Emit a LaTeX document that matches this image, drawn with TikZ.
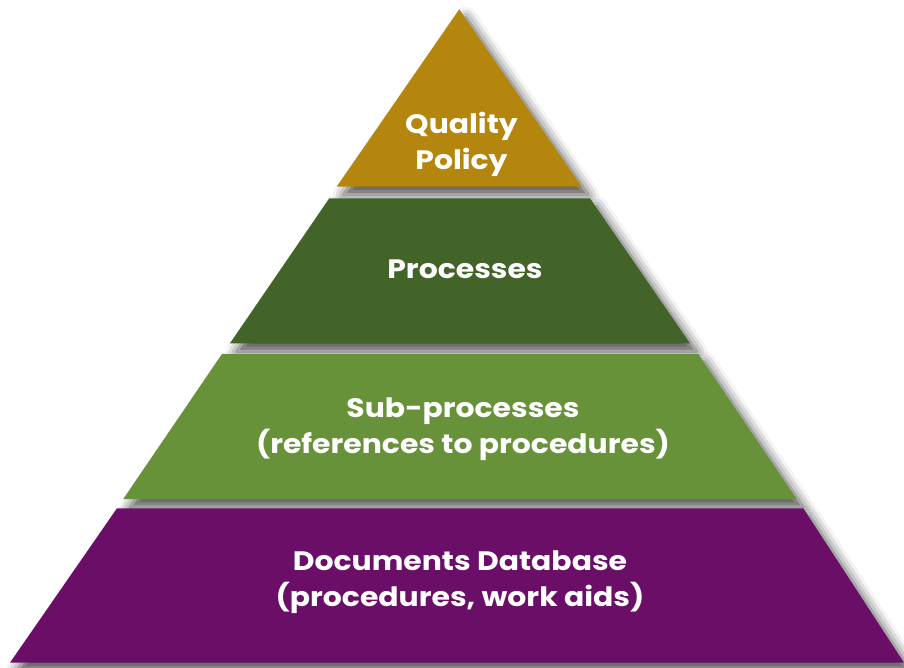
\documentclass[tikz,border=0pt]{standalone}
\usepackage{fontspec}
\setmainfont{Poppins}[FakeStretch=1.12]
\usetikzlibrary{shadows.blur}
\definecolor{policygold}{RGB}{181,134,14}
\definecolor{processgreen}{RGB}{66,100,41}
\definecolor{subgreen}{RGB}{103,146,58}
\definecolor{docpurple}{RGB}{106,14,104}

\begin{document}
\begin{tikzpicture}[
        x=0.75pt, y=-0.75pt,
        tier/.style={draw=none, blur shadow={shadow xshift=5pt, shadow yshift=-6pt, shadow blur radius=8pt, shadow opacity=70}},
        tiertext/.style={text=white, font=\bfseries\fontsize{20}{27}\selectfont, align=center}
    ]
        \useasboundingbox (0,0) rectangle (904,668);

        % Tiers, top to bottom
        \fill[tier, fill=policygold] (459.3,9.3) -- (581.7,186.7) -- (336.7,186.7) -- cycle;
        \fill[tier, fill=processgreen] (329.3,198.3) -- (590,198.3) -- (690,343.3) -- (230,343.3) -- cycle;
        \fill[tier, fill=subgreen] (222,354) -- (698.3,354) -- (796.7,499) -- (123.3,499) -- cycle;
        \fill[tier, fill=docpurple] (117,508.3) -- (803.3,508.3) -- (904,662.7) -- (10,662.7) -- cycle;

        % Labels
        \node[tiertext] (policy) at (461.5,144.5) {Quality\\Policy};
        \node[tiertext] (processes) at (465,269) {Processes};
        \node[tiertext] (subproc) at (463,429) {Sub-processes\\(references to procedures)};
        \node[tiertext] (docs) at (460,582.5) {Documents Database\\(procedures, work aids)};
    \end{tikzpicture}
\end{document}
